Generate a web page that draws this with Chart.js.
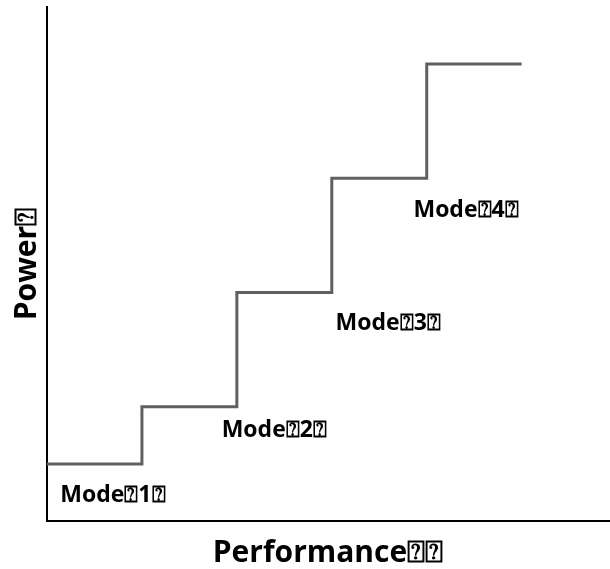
<!DOCTYPE html>
<html>
<head>
<meta charset="utf-8">
<script src="https://cdn.jsdelivr.net/npm/chart.js@4.4.1/dist/chart.umd.min.js"></script>
<style>
html,body{margin:0;padding:0;background:#fff;}
#wrap{width:610px;height:569px;}
</style>
</head>
<body>
<div id="wrap"><canvas id="c" width="610" height="569"></canvas></div>
<script>
// Step line: performance (x) vs power (y)
const stepX = [0, 1, 1, 2, 2, 3, 3, 4, 4, 5];
const stepY = [1, 1, 2, 2, 4, 4, 6, 6, 8, 8];
const modeLabels = ['Mode⍰1⍰', 'Mode⍰2⍰', 'Mode⍰3⍰', 'Mode⍰4⍰'];
const labelX = [0.14, 1.84, 3.04, 3.86];
const labelY = [0.45, 1.59, 3.46, 5.44];
const xTitle = 'Performance⍰⍰';
const yTitle = 'Power⍰';

const points = stepX.map((x, i) => ({x: x, y: stepY[i]}));

const labelPlugin = {
  id: 'modeLabels',
  afterDatasetsDraw(chart) {
    const ctx = chart.ctx;
    const xs = chart.scales.x, ys = chart.scales.y;
    ctx.save();
    ctx.font = 'bold 23px "Open Sans", sans-serif';
    ctx.fillStyle = '#000';
    ctx.textAlign = 'left';
    ctx.textBaseline = 'middle';
    modeLabels.forEach((t, i) => {
      ctx.fillText(t, xs.getPixelForValue(labelX[i]), ys.getPixelForValue(labelY[i]));
    });
    ctx.restore();
  }
};

new Chart(document.getElementById('c'), {
  type: 'line',
  data: {
    datasets: [{
      data: points,
      borderColor: '#606060',
      borderWidth: 3,
      pointRadius: 0,
      fill: false,
      tension: 0
    }]
  },
  options: {
    responsive: false,
    animation: false,
    layout: {padding: {top: 7, right: 1, left: 0, bottom: 0}},
    plugins: {legend: {display: false}, tooltip: {enabled: false}},
    scales: {
      x: {
        type: 'linear',
        min: 0, max: 5.92,
        grid: {display: false},
        border: {display: true, color: '#000', width: 2},
        ticks: {display: false},
        title: {display: true, text: xTitle, color: '#000',
          font: {family: '"Open Sans", sans-serif', size: 30, weight: 'bold', lineHeight: 1}, padding: {top: 1, bottom: 1}},
        afterFit(s) { s.height = 48; }
      },
      y: {
        type: 'linear',
        min: 0, max: 9,
        grid: {display: false},
        border: {display: true, color: '#000', width: 2},
        ticks: {display: false},
        title: {display: true, text: yTitle, color: '#000',
          font: {family: '"Open Sans", sans-serif', size: 30, weight: 'bold', lineHeight: 1}, padding: {top: 12, bottom: 1}},
        afterFit(s) { s.width = 47; }
      }
    }
  },
  plugins: [labelPlugin]
});
</script>
</body>
</html>
